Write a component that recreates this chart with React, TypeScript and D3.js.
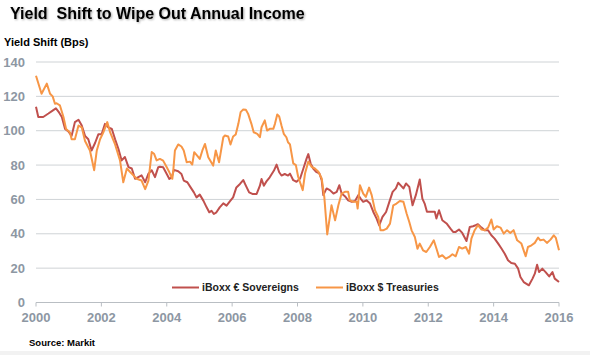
import React from "react";
import * as d3 from "d3";

const yTicks = [0, 20, 40, 60, 80, 100, 120, 140];
const xTicks = [2000, 2002, 2004, 2006, 2008, 2010, 2012, 2014, 2016];

const sovDates = [
  2000.0, 2000.07, 2000.22, 2000.38, 2000.53, 2000.61, 2000.71, 2000.79, 2000.89, 2000.99,
  2001.09, 2001.19, 2001.3, 2001.4, 2001.5, 2001.6, 2001.7, 2001.81, 2001.91, 2002.01,
  2002.11, 2002.21, 2002.32, 2002.42, 2002.52, 2002.62, 2002.72, 2002.83, 2002.93, 2003.03,
  2003.13, 2003.23, 2003.34, 2003.44, 2003.54, 2003.64, 2003.74, 2003.79, 2003.89, 2004.0,
  2004.08, 2004.15, 2004.22, 2004.35, 2004.45, 2004.52, 2004.63, 2004.73, 2004.83, 2004.91,
  2005.01, 2005.12, 2005.22, 2005.3, 2005.37, 2005.44, 2005.52, 2005.62, 2005.73, 2005.83,
  2005.93, 2006.03, 2006.13, 2006.24, 2006.34, 2006.42, 2006.52, 2006.62, 2006.75, 2006.85,
  2006.9, 2006.97, 2007.05, 2007.15, 2007.28, 2007.36, 2007.44, 2007.51, 2007.61, 2007.71,
  2007.77, 2007.87, 2007.97, 2008.08, 2008.18, 2008.28, 2008.33, 2008.4, 2008.48, 2008.57,
  2008.67, 2008.74, 2008.79, 2008.89, 2008.99, 2009.1, 2009.2, 2009.28, 2009.35, 2009.45,
  2009.55, 2009.66, 2009.76, 2009.86, 2009.93, 2010.01, 2010.11, 2010.22, 2010.32, 2010.42,
  2010.5, 2010.6, 2010.71, 2010.81, 2010.91, 2011.01, 2011.08, 2011.15, 2011.24, 2011.32,
  2011.42, 2011.52, 2011.62, 2011.74, 2011.82, 2011.89, 2011.96, 2012.1, 2012.2, 2012.25,
  2012.33, 2012.43, 2012.56, 2012.68, 2012.76, 2012.84, 2012.94, 2013.04, 2013.17, 2013.27,
  2013.37, 2013.45, 2013.52, 2013.63, 2013.73, 2013.83, 2013.93, 2014.03, 2014.14, 2014.24,
  2014.34, 2014.44, 2014.54, 2014.65, 2014.75, 2014.82, 2014.92, 2015.08, 2015.19, 2015.26,
  2015.33, 2015.39, 2015.49, 2015.59, 2015.7, 2015.8, 2015.87, 2016.0,
];
const sovValues = [
  114, 108, 108, 110, 112, 113, 110.5, 108, 101, 99.6,
  97, 105, 106.4, 103, 97, 95, 88.5, 93, 98, 98,
  104, 102, 101, 95, 89.5, 82.7, 84.7, 78.8, 78, 72,
  73, 74, 70, 75, 77, 73, 78.8, 79, 78.7, 74.8,
  71.9, 72.9, 77.2, 76.4, 74.8, 71, 70, 67, 64.1, 61.2,
  62.8, 59.3, 55.4, 52.5, 53.4, 51.5, 52.5, 55.4, 57.7, 56.4,
  58.9, 61.2, 67, 69, 71.3, 68, 64.1, 63.2, 63.2, 68,
  71.9, 68, 70.5, 72.9, 76.8, 80.3, 75.8, 73.9, 74.8, 73.9,
  75, 71.2, 70.3, 72.2, 78, 83.9, 86.4, 81, 78, 76.1,
  75.1, 71.2, 62.5, 66.4, 65.4, 63.4, 64.4, 68.3, 63.4, 61.9,
  59.5, 58.6, 59.1, 62.5, 60.5, 58.6, 59.5, 57.6, 52.7, 48.8,
  44.9, 49.8, 52.7, 58.6, 64.4, 66.4, 69.7, 68.3, 66.4, 69.3,
  67.3, 56.6, 62.5, 71.6, 60.5, 57.6, 52.8, 52.8, 52.8, 48.9,
  53.7, 47.9, 46, 43, 41.1, 41.1, 42.5, 40.5, 35.8, 44,
  44.4, 45, 45.6, 43.6, 42.1, 42.1, 39.1, 37.2, 34.3, 31.4,
  28.4, 24.6, 23, 22.6, 19.7, 14.8, 11.9, 10, 13.9, 16.8,
  22, 17.7, 19.7, 17.7, 15.2, 17.7, 13.9, 11.9,
];

const tsyDates = [
  2000.0, 2000.17, 2000.33, 2000.43, 2000.51, 2000.58, 2000.63, 2000.73, 2000.84, 2000.92,
  2001.04, 2001.09, 2001.19, 2001.3, 2001.4, 2001.5, 2001.65, 2001.78, 2001.86, 2001.96,
  2002.06, 2002.18, 2002.27, 2002.42, 2002.57, 2002.67, 2002.78, 2002.88, 2002.98, 2003.08,
  2003.23, 2003.34, 2003.44, 2003.54, 2003.61, 2003.69, 2003.79, 2003.89, 2004.0, 2004.08,
  2004.17, 2004.2, 2004.25, 2004.35, 2004.45, 2004.52, 2004.61, 2004.71, 2004.78, 2004.84,
  2004.93, 2005.01, 2005.09, 2005.17, 2005.27, 2005.42, 2005.5, 2005.6, 2005.73, 2005.78,
  2005.88, 2005.95, 2006.03, 2006.11, 2006.19, 2006.26, 2006.34, 2006.42, 2006.49, 2006.59,
  2006.66, 2006.77, 2006.85, 2006.9, 2007.0, 2007.07, 2007.15, 2007.26, 2007.31, 2007.38,
  2007.44, 2007.51, 2007.58, 2007.66, 2007.71, 2007.77, 2007.87, 2007.95, 2008.02, 2008.16,
  2008.23, 2008.33, 2008.43, 2008.53, 2008.64, 2008.74, 2008.82, 2008.91, 2008.99, 2009.04,
  2009.15, 2009.25, 2009.35, 2009.45, 2009.55, 2009.6, 2009.71, 2009.81, 2009.84, 2009.91,
  2010.01, 2010.09, 2010.19, 2010.27, 2010.37, 2010.47, 2010.54, 2010.62, 2010.73, 2010.83,
  2010.93, 2011.03, 2011.13, 2011.24, 2011.34, 2011.42, 2011.49, 2011.59, 2011.67, 2011.74,
  2011.84, 2011.94, 2012.05, 2012.17, 2012.25, 2012.33, 2012.43, 2012.54, 2012.64, 2012.74,
  2012.84, 2012.94, 2013.04, 2013.15, 2013.25, 2013.32, 2013.42, 2013.52, 2013.63, 2013.73,
  2013.83, 2013.93, 2014.0, 2014.1, 2014.21, 2014.31, 2014.41, 2014.51, 2014.61, 2014.72,
  2014.85, 2014.98, 2015.05, 2015.16, 2015.26, 2015.36, 2015.43, 2015.53, 2015.63, 2015.74,
  2015.84, 2015.9, 2016.0,
];
const tsyValues = [
  132, 121.5, 127.4, 121.5, 120, 115.7, 116, 114.8, 108, 101,
  99, 95, 95, 103, 102, 94, 88.5, 77, 88.5, 95,
  99, 105, 99, 92, 82.7, 70, 78, 76, 74, 72,
  71, 66, 71, 87.6, 86.6, 82.7, 83.6, 82.6, 78.7, 75.8,
  72, 76.8, 88.5, 92, 90.8, 88.5, 81.6, 82, 80.3, 87.5,
  85.5, 83.6, 88.5, 92.3, 84.6, 79.7, 88.5, 81.6, 96.2, 97.2,
  96.6, 92, 96.6, 97.8, 104, 110.8, 112.4, 112.2, 109.8, 104,
  99.1, 98.2, 96.2, 102, 106, 100.1, 101.1, 101.1, 104, 109.5,
  108.3, 103, 98.2, 96.2, 93.3, 92, 81, 80, 73.2, 65.4,
  75.1, 82, 79, 78, 76.1, 72.2, 61.5, 39.6, 49.8, 56.6,
  47.8, 56.6, 63.4, 64.4, 64.4, 59.5, 58.6, 58.6, 54.7, 68.3,
  63.4, 61.5, 66.9, 62.5, 53.7, 49.8, 42, 42, 43, 45.9,
  56.6, 57.6, 59.1, 58.6, 51.7, 46.9, 42, 38.1, 31.3, 34.3,
  30.4, 29.4, 32.3, 36.2, 31.4, 26.5, 27.5, 25.5, 26.5, 28.1,
  26.9, 32.3, 31.4, 32.3, 28.4, 37.2, 42.1, 45, 42.5, 42.1,
  43.6, 48.3, 42.5, 44.4, 43.6, 40.1, 42.1, 40.5, 42.1, 36.2,
  34.3, 26.9, 32.3, 33.3, 34.7, 37.8, 36.2, 36.6, 34.7, 36.6,
  39.1, 37.8, 30.4,
];

const series = [
  { name: "iBoxx € Sovereigns", dates: sovDates, values: sovValues, color: "#c0504d" },
  { name: "iBoxx $ Treasuries", dates: tsyDates, values: tsyValues, color: "#f79646" },
];

const W = 590;
const H = 355;
const font = "'Liberation Sans', Arial, sans-serif";

export default function App() {
  const x = d3.scaleLinear().domain([2000, 2016]).range([36, 559]);
  const y = d3.scaleLinear().domain([0, 140]).range([302.5, 62]);

  const line = d3
    .line<[number, number]>()
    .x((d) => x(d[0]))
    .y((d) => y(d[1]));

  const legendX = [172, 316];

  return (
    <svg
      width={W}
      height={H}
      style={{ position: "absolute", left: 0, top: 0, background: "#fff" }}
      fontFamily={font}
    >
      <defs>
        <filter id="ts" x="-5%" y="-30%" width="110%" height="160%">
          <feGaussianBlur in="SourceAlpha" stdDeviation="0.8" />
          <feOffset dx="1" dy="1" result="b" />
          <feComponentTransfer>
            <feFuncA type="linear" slope="0.35" />
          </feComponentTransfer>
          <feMerge>
            <feMergeNode />
            <feMergeNode in="SourceGraphic" />
          </feMerge>
        </filter>
      </defs>
      <rect x={0} y={0} width={W} height={H} fill="#fff" />
      <rect x={0} y={351} width={W} height={4} fill="#f2f2f2" />

      <text x={10} y={19} fontSize={16} fontWeight="bold" fill="#000" filter="url(#ts)" xmlSpace="preserve">
        Yield  Shift to Wipe Out Annual Income
      </text>
      <text x={4} y={46} fontSize={11} fontWeight="bold" fill="#000">
        Yield Shift (Bps)
      </text>

      {yTicks.map((t) => (
        <g key={t}>
          {t > 0 && (
            <line x1={36} x2={559} y1={y(t)} y2={y(t)} stroke="#cfd3d6" strokeWidth={1} />
          )}
          <text
            x={25}
            y={y(t) + 4.5}
            textAnchor="end"
            fontSize={13}
            fontWeight="bold"
            fill="#8d97a3"
          >
            {t}
          </text>
        </g>
      ))}

      <line x1={36} x2={559} y1={y(0)} y2={y(0)} stroke="#b9bec3" strokeWidth={1} />
      {xTicks.map((t) => (
        <g key={t}>
          <line x1={x(t)} x2={x(t)} y1={y(0)} y2={y(0) + 4} stroke="#b9bec3" strokeWidth={1} />
          <text x={x(t)} y={322} textAnchor="middle" fontSize={13} fontWeight="bold" fill="#8d97a3">
            {t}
          </text>
        </g>
      ))}

      {series.map((s) => (
        <path
          key={s.name}
          d={line(s.dates.map((d, i) => [d, s.values[i]] as [number, number])) || ""}
          fill="none"
          stroke={s.color}
          strokeWidth={2}
          strokeLinejoin="round"
        />
      ))}

      {series.map((s, i) => (
        <g key={s.name}>
          <line
            x1={legendX[i]}
            x2={legendX[i] + 27}
            y1={287.5}
            y2={287.5}
            stroke={s.color}
            strokeWidth={2}
          />
          <text x={legendX[i] + 30} y={291} fontSize={10.5} fontWeight="bold" fill="#222">
            {s.name}
          </text>
        </g>
      ))}

      <text x={29} y={346} fontSize={9.5} fontWeight="bold" fill="#000">
        Source: Markit
      </text>
    </svg>
  );
}
